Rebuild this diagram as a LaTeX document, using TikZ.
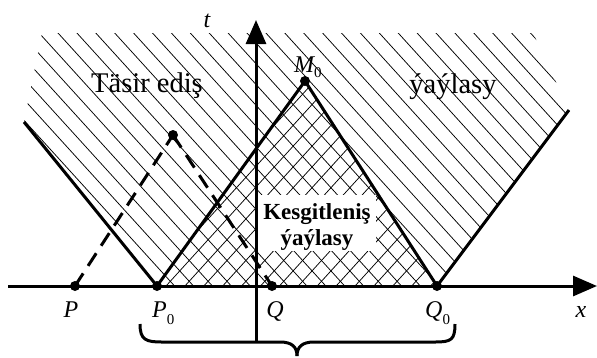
\documentclass[tikz,border=0pt]{standalone}
\usepackage{fontspec}
\setmainfont{Liberation Serif}
\usetikzlibrary{arrows.meta}
\newcommand\subzero[1]{\raisebox{#1}{\upshape\fontsize{15}{15}\selectfont 0}}
\begin{document}
\begin{tikzpicture}[x=1pt,y=-1pt,
  thickline/.style={line width=3pt},
  dashline/.style={line width=3pt, dash pattern=on 15pt off 9pt},
  hatchline/.style={line width=0.75pt},
  axisline/.style={line width=3pt, -{Triangle[length=24pt,width=20pt]}},
  dot/.style={circle, fill=black, inner sep=0pt, minimum size=10pt},
  lab/.style={font=\fontsize{24}{24}\selectfont\itshape, inner sep=0pt},
  region/.style={font=\fontsize{28.5}{30}\selectfont, inner sep=0pt},
  boldregion/.style={font=\fontsize{23}{25}\selectfont\bfseries, inner sep=0pt}]
\useasboundingbox (0,0) rectangle (597,357);

% outer hatching (domain of influence)
\begin{scope}
  \clip (157,286) -- (24,122) -- (42,33) -- (533,33) -- (569,110) -- (437,286) -- cycle;
  \foreach \k in {-29,...,16} {
    \draw[hatchline] ({273.7+18.9*\k},0) -- ++(360,396);
  }
\end{scope}

% cross hatching (domain of determination)
\begin{scope}
  \clip (157,286) -- (305,81) -- (437,286) -- cycle;
  \foreach \j in {-4,...,16} {
    \draw[hatchline] ({426+18.9*\j},0) -- ++(-360,396);
  }
\end{scope}
\fill[white] (256,195) rectangle (376,251);

% texts
\node[region, anchor=base] (infl) at (147,92) {Täsir ediş};
\node[region, anchor=base] (infl2) at (453,93) {ýaýlasy};
\node[boldregion, anchor=base] (det1) at (317,219) {Kesgitleniş};
\node[boldregion, anchor=base] (det2) at (317,245) {ýaýlasy};

% points
\node[dot] (P) at (75,286) {};
\node[dot] (P0) at (157,286) {};
\node[dot] (Q) at (272,286) {};
\node[dot] (Q0) at (437,286) {};
\node[dot] (M0) at (305,81) {};
\node[dot] (A) at (173,135) {};
\coordinate (L) at (24,122);
\coordinate (R) at (569,110);

% characteristics
\draw[thickline] (L) -- (P0.center);
\draw[thickline] (P0.center) -- (M0.center) -- (Q0.center);
\draw[thickline] (Q0.center) -- (R);
\draw[dashline] (P.center) -- (A.center);
\draw[dashline] (A.center) -- (Q.center);

% axes
\coordinate (xs) at (8,286);
\coordinate (xe) at (597,286);
\coordinate (ts) at (256,342);
\coordinate (te) at (256,20);
\draw[axisline] (xs) -- (xe);
\draw[axisline] (ts) -- (te);

% labels
\node[lab, anchor=base] (tl) at (207,27) {t};
\node[lab, anchor=base] (xl) at (581,317) {x};
\node[lab, anchor=base] (Pl) at (71,317) {P};
\node[lab, anchor=base west] (P0l) at (152,317) {P\subzero{-7pt}};
\node[lab, anchor=base] (Ql) at (275,317) {Q};
\node[lab, anchor=base west] (Q0l) at (425,317) {Q\subzero{-7pt}};
\node[lab, anchor=base west] (M0l) at (294,72) {M\subzero{-5pt}};

% brace
\coordinate (bl) at (140,324);
\coordinate (bm) at (297,356);
\coordinate (br) at (455,324);
\draw[thickline] (bl) .. controls (140,340) and (146,342) .. (162,342) -- (280,342)
  .. controls (292,342) and (297,347) .. (bm);
\draw[thickline] (bm) .. controls (297,347) and (302,342) .. (314,342) -- (435,342)
  .. controls (451,342) and (455,340) .. (br);
\end{tikzpicture}
\end{document}
